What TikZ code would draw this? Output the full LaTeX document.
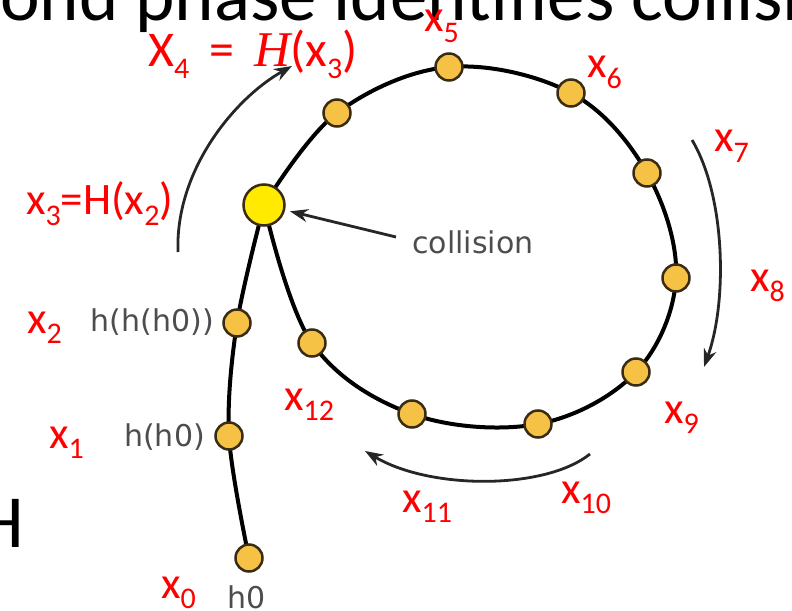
\documentclass[tikz,border=0pt]{standalone}
\usepackage{fontspec}
\setmainfont{Carlito}
\newfontfamily\glabelfont{DejaVu Sans}
\newfontfamily\serifit{Liberation Serif}
\usetikzlibrary{arrows.meta,backgrounds}
\definecolor{dotFill}{HTML}{F5C245}
\definecolor{dotLine}{HTML}{3A2C14}
\definecolor{hitFill}{HTML}{FFEA00}
\definecolor{lblGray}{HTML}{4D4D4D}
\colorlet{xRed}{red}
\newcommand{\sbs}[1]{\raisebox{-0.24em}{\fontsize{30bp}{30bp}\selectfont #1}}

\begin{document}
\begin{tikzpicture}[x=1bp,y=-1bp]
    \tikzstyle{chaindot}=[circle, draw=dotLine, line width=2.5bp, fill=dotFill, inner sep=0pt, minimum size=27bp]
    \tikzstyle{hitdot}=[circle, draw=dotLine, line width=2.5bp, fill=hitFill, inner sep=0pt, minimum size=41bp]
    \tikzstyle{xlabel}=[text=xRed, inner sep=0pt, anchor=base west, font=\fontsize{45bp}{54bp}\selectfont]
    \tikzstyle{hlabel}=[text=lblGray, inner sep=0pt, font=\glabelfont\fontsize{30bp}{36bp}\selectfont]
    \tikzstyle{bigtext}=[inner sep=0pt, anchor=base west, font=\fontsize{75bp}{90bp}\selectfont]
    \tikzstyle{chain}=[line width=4bp, black]
    \tikzstyle{flow}=[line width=2.8bp, black!85, -{Stealth[length=18bp,width=13bp]}]

    \useasboundingbox (0,0) rectangle (792,611);
    \clip (0,0) rectangle (792,611);

    \node[bigtext] (title) at (0,21) {ond phase identifies collisi};
    \node[bigtext] (cutH) at (-23,547) {H};

    \node[chaindot] (h0) at (249,558) {};
    \node[chaindot] (h1) at (229,436) {};
    \node[chaindot] (h2) at (237,323) {};
    \node[hitdot] (hit) at (264,205) {};
    \node[chaindot] (c4) at (337,113) {};
    \node[chaindot] (c5) at (449,67) {};
    \node[chaindot] (c6) at (571,93) {};
    \node[chaindot] (c7) at (647,173) {};
    \node[chaindot] (c8) at (676,278) {};
    \node[chaindot] (c9) at (636,372) {};
    \node[chaindot] (c10) at (538,424) {};
    \node[chaindot] (c11) at (412,414) {};
    \node[chaindot] (c12) at (312,343) {};

    \begin{scope}[on background layer]
      \draw[chain] plot[smooth, tension=0.55] coordinates {(h0.center) (h1.center) (h2.center) (hit.center)};
      \draw[chain] plot[smooth, tension=0.6] coordinates {(hit.center) (c4.center) (c5.center) (c6.center) (c7.center) (c8.center) (c9.center) (c10.center) (c11.center) (c12.center) (hit.center)};
    \end{scope}

    \node[hlabel, anchor=base east] (lh2) at (214,331) {h(h(h0))};
    \node[hlabel, anchor=base east] (lh1) at (205,446) {h(h0)};
    \node[hlabel, anchor=base west] (lh0) at (227,608) {h0};
    \node[hlabel, anchor=base west] (lhit) at (412,253) {collision};

    \node[xlabel] (lx0) at (161,598) {x\sbs{0}};
    \node[xlabel] (lx1) at (49,448) {x\sbs{1}};
    \node[xlabel] (lx2) at (27,333) {x\sbs{2}};
    \node[xlabel] (lx3) at (26,215) {x\sbs{3}=H(x\sbs{2})};
    \node[xlabel, font=\fontsize{50bp}{60bp}\selectfont] (lx4) at (148,67) {X\sbs{4}\hspace{0.4em}=\hspace{0.4em}{\serifit\itshape H}(x\sbs{3})};
    \node[xlabel] (lx5) at (424,32) {x\sbs{5}};
    \node[xlabel] (lx6) at (587,78) {x\sbs{6}};
    \node[xlabel] (lx7) at (714,152) {x\sbs{7}};
    \node[xlabel] (lx8) at (750,291) {x\sbs{8}};
    \node[xlabel] (lx9) at (664,423) {x\sbs{9}};
    \node[xlabel] (lx10) at (561,503) {x\sbs{10}};
    \node[xlabel] (lx11) at (402,512) {x\sbs{11}};
    \node[xlabel] (lx12) at (284,410) {x\sbs{12}};

    \coordinate (hitTail) at (396,237);
    \coordinate (upA) at (178,252);
    \coordinate (upB) at (292,66);
    \coordinate (rgA) at (692,140);
    \coordinate (rgB) at (704,367);
    \coordinate (btA) at (590,454);
    \coordinate (btB) at (365,451);

    \draw[flow, shorten >=5bp] (hitTail) -- (hit);
    \draw[flow] (upA) .. controls (175,170) and (235,98) .. (upB);
    \draw[flow] (rgA) .. controls (725,195) and (728,300) .. (rgB);
    \draw[flow] (btA) .. controls (545,490) and (430,490) .. (btB);
\end{tikzpicture}
\end{document}
